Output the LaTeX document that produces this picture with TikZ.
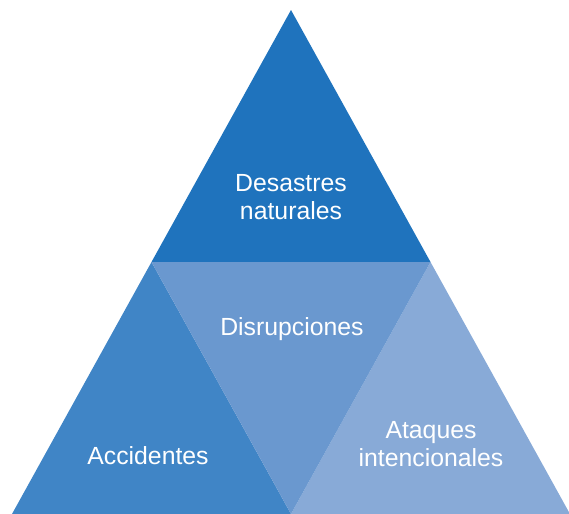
\documentclass[tikz,border=0pt]{standalone}
\usepackage{fontspec}
\setmainfont{Liberation Sans}
\definecolor{ctop}{RGB}{31,115,189}
\definecolor{cleft}{RGB}{64,133,198}
\definecolor{cmid}{RGB}{106,152,207}
\definecolor{cright}{RGB}{136,170,215}
\begin{document}
\begin{tikzpicture}[x=0.75pt,y=-0.75pt,
  lbl/.style={text=white,font=\fontsize{18.6}{21}\selectfont,align=center,inner sep=0pt}]
\useasboundingbox (0,0) rectangle (569,514);
\coordinate (A) at (291,10);
\coordinate (B) at (12,514);
\coordinate (C) at (570,514);
\coordinate (L) at (151.5,262);
\coordinate (R) at (430.5,262);
\coordinate (M) at (291,514);
\fill[ctop] (A) -- (L) -- (R) -- cycle;
\fill[cleft] (L) -- (B) -- (M) -- cycle;
\fill[cright] (R) -- (M) -- (C) -- cycle;
\fill[cmid] (L) -- (R) -- (M) -- cycle;
\node[lbl] (t1) at (291,197) {Desastres\\naturales};
\node[lbl] (t2) at (292,329) {Disrupciones};
\node[lbl] (t3) at (148,456) {Accidentes};
\node[lbl] (t4) at (431,444) {Ataques\\intencionales};
\end{tikzpicture}
\end{document}
